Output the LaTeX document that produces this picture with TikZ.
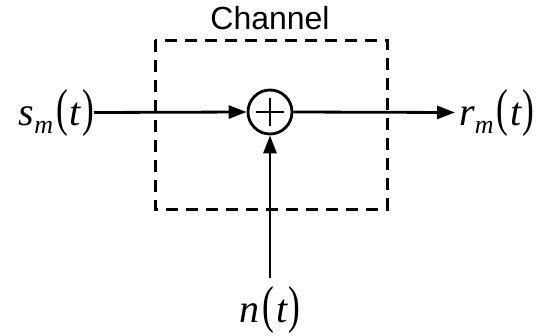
\documentclass[tikz,border=0pt]{standalone}
\usepackage{fontspec}
\newfontfamily\chanfont{Liberation Sans}
\newfontfamily\lblfont{Liberation Serif}
\usetikzlibrary{arrows.meta, positioning}

% tall narrow parenthesis, and a signal name with subscript and (t)
\newcommand\tallparen[1]{\scalebox{0.68}[1]{\upshape\fontsize{52}{56}\selectfont #1}}
\newcommand\argt{\tallparen{(}\hspace{2pt}t\hspace{1pt}\tallparen{)}}
\newcommand\signame[2]{{\lblfont\itshape\fontsize{40}{44}\selectfont
  #1\raisebox{-8pt}{\fontsize{26}{28}\selectfont #2}\hspace{3pt}\argt}}

\tikzset{
  sig/.style={line width=2.8pt, -{Triangle[length=18pt, width=13pt]}},
  lbl/.style={inner sep=0pt},
  chanbox/.style={line width=3pt, dash pattern=on 12pt off 8pt}
}

\begin{document}
\begin{tikzpicture}[x=1pt, y=-1pt]
  \useasboundingbox (0, 0) rectangle (538, 335);

  % channel box and its title
  \draw[chanbox] (155, 40) rectangle (387, 209);
  \node[inner sep=0pt, font=\chanfont\fontsize{32}{36}\selectfont] (title) at (270, 18) {Channel};

  % adder
  \node[draw, circle, line width=2.8pt, minimum size=44pt, inner sep=0pt] (sum) at (270, 112) {};
  \draw[line width=2.8pt] ([yshift=-14pt]sum.center) -- ([yshift=14pt]sum.center);
  \draw[line width=2.8pt] ([xshift=-14pt]sum.center) -- ([xshift=14pt]sum.center);

  % signals
  \node[lbl, anchor=base east] (src) at (94, 125) {\signame{s}{m}};
  \node[lbl, anchor=base west] (out) at (459, 125) {\signame{r}{m}};
  \node[lbl, anchor=base] (noise) at (270, 322) {{\lblfont\itshape\fontsize{40}{44}\selectfont n\hspace{3pt}\argt}};

  % connections
  \draw[sig] (src.east) -- (sum.west);
  \draw[sig] (sum.east) -- ([xshift=-4pt]out.west);
  \draw[sig] ([yshift=8pt]noise.north) -- (sum.south);
\end{tikzpicture}
\end{document}
